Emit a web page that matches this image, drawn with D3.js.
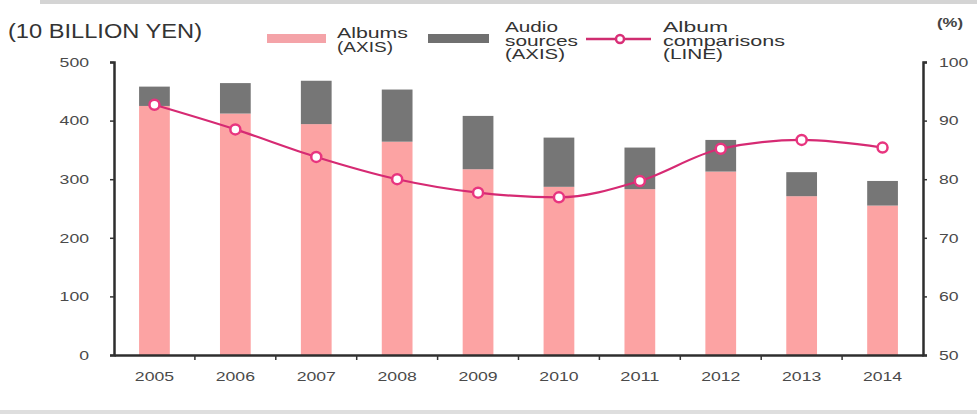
<!DOCTYPE html>
<html>
<head>
<meta charset="utf-8">
<script src="https://cdn.jsdelivr.net/npm/d3@7"></script>
<style>
  body { margin: 0; background: #fff; }
  text { font-family: "Liberation Sans", Arial, sans-serif; }
</style>
</head>
<body>
<div id="chart"></div>
<script>
// values
var years = ["2005","2006","2007","2008","2009","2010","2011","2012","2013","2014"];
var albums = [425, 412, 394, 364, 317, 287, 283, 313, 271, 255];
var audioSources = [33, 52, 74, 89, 91, 84, 71, 54, 41, 42];
var albumRatio = [92.7, 88.5, 83.8, 80.0, 77.7, 76.9, 79.7, 85.2, 86.7, 85.4];
var leftTicks = [0, 100, 200, 300, 400, 500];
var rightTicks = [50, 60, 70, 80, 90, 100];

var W = 977, H = 416;
var m = {left: 114, right: 54, top: 62, bottom: 61};

var svg = d3.select("#chart").append("svg").attr("width", W).attr("height", H);

// grey frame bands
svg.append("rect").attr("x", 40).attr("y", 0).attr("width", W - 40).attr("height", 4).attr("fill", "#d4d4d4");
svg.append("rect").attr("x", 0).attr("y", 410).attr("width", W).attr("height", 4).attr("fill", "#dedede");

var x = d3.scaleBand().domain(years).range([m.left, W - m.right]).paddingInner(0.62).paddingOuter(0.31);
var xOuter = d3.scaleBand().domain(years).range([m.left, W - m.right]);
var y = d3.scaleLinear().domain([0, 500]).range([H - m.bottom, m.top]);
var y2 = d3.scaleLinear().domain([50, 100]).range([H - m.bottom, m.top]);

// bars
var g = svg.append("g");
g.selectAll(".alb").data(years).enter().append("rect")
  .attr("x", function(d){ return x(d); })
  .attr("width", x.bandwidth())
  .attr("y", function(d,i){ return y(albums[i]); })
  .attr("height", function(d,i){ return y(0) - y(albums[i]); })
  .attr("fill", "#fca3a3");
g.selectAll(".aud").data(years).enter().append("rect")
  .attr("x", function(d){ return x(d); })
  .attr("width", x.bandwidth())
  .attr("y", function(d,i){ return y(albums[i] + audioSources[i]); })
  .attr("height", function(d,i){ return y(albums[i]) - y(albums[i] + audioSources[i]); })
  .attr("fill", "#767676");

// axes
var axL = svg.append("g").attr("transform", "translate(" + m.left + ",0)")
  .call(d3.axisLeft(y).tickValues(leftTicks).tickSize(4).tickPadding(21));
var axR = svg.append("g").attr("transform", "translate(" + (W - m.right) + ",0)")
  .call(d3.axisRight(y2).tickValues(rightTicks).tickSize(4).tickPadding(12));
var axB = svg.append("g").attr("transform", "translate(0," + (H - m.bottom) + ")")
  .call(d3.axisBottom(xOuter).tickSize(0).tickPadding(16));
// tick marks between categories
svg.append("g").selectAll("line").data(years.slice(1)).enter().append("line")
  .attr("x1", function(d){ return xOuter(d); }).attr("x2", function(d){ return xOuter(d); })
  .attr("y1", H - m.bottom).attr("y2", H - m.bottom + 5)
  .attr("stroke", "#333").attr("stroke-width", 1.5);

[axL, axR, axB].forEach(function(a){
  a.select(".domain").attr("stroke", "#2e2e2e").attr("stroke-width", 2.5);
  a.selectAll(".tick line").attr("stroke", "#333").attr("stroke-width", 1.5);
  a.selectAll("text").attr("fill", "#4a4a4a").style("font-size", "13.5px")
    .attr("textLength", function(){ return this.textContent.length * 9.8; })
    .attr("lengthAdjust", "spacingAndGlyphs");
});

// line
var line = d3.line()
  .x(function(d,i){ return x(years[i]) + x.bandwidth()/2; })
  .y(function(d){ return y2(d); })
  .curve(d3.curveMonotoneX);
svg.append("path").datum(albumRatio).attr("d", line)
  .attr("fill", "none").attr("stroke", "#d62a73").attr("stroke-width", 2.2);
svg.selectAll(".pt").data(albumRatio).enter().append("circle")
  .attr("cx", function(d,i){ return x(years[i]) + x.bandwidth()/2; })
  .attr("cy", function(d){ return y2(d); })
  .attr("r", 5).attr("fill", "#fff").attr("stroke", "#e8357f").attr("stroke-width", 2.5);

// titles
svg.append("text").attr("x", 8).attr("y", 38).text("(10 BILLION YEN)")
  .style("font-size", "20px").attr("fill", "#333")
  .attr("textLength", 194).attr("lengthAdjust", "spacingAndGlyphs");
svg.append("text").attr("x", 937).attr("y", 27).text("(%)")
  .style("font-size", "12px").style("font-weight", "bold").attr("fill", "#444")
  .attr("textLength", 26).attr("lengthAdjust", "spacingAndGlyphs");

// legend
var lg = svg.append("g");
lg.append("rect").attr("x", 267).attr("y", 34).attr("width", 59).attr("height", 9).attr("fill", "#f4a3a8");
lg.append("rect").attr("x", 428).attr("y", 34).attr("width", 61).attr("height", 9).attr("fill", "#707070");
lg.append("line").attr("x1", 586).attr("x2", 651).attr("y1", 39).attr("y2", 39).attr("stroke", "#cf2d70").attr("stroke-width", 2.5);
lg.append("circle").attr("cx", 620).attr("cy", 39).attr("r", 4).attr("fill", "#fff").attr("stroke", "#d92f77").attr("stroke-width", 2.5);

var legendText = [
  {x: 337, y: 38, lines: ["Albums", "(AXIS)"], widths: [71, 56]},
  {x: 505, y: 32, lines: ["Audio", "sources", "(AXIS)"], widths: [53, 73, 60]},
  {x: 663, y: 32, lines: ["Album", "comparisons", "(LINE)"], widths: [65, 122, 60]}
];
legendText.forEach(function(t){
  t.lines.forEach(function(s, i){
    lg.append("text").attr("x", t.x).attr("y", t.y + i * 13.5)
      .style("font-size", "15.5px").attr("fill", "#333")
      .attr("textLength", t.widths[i]).attr("lengthAdjust", "spacingAndGlyphs")
      .text(s);
  });
});
</script>
</body>
</html>
